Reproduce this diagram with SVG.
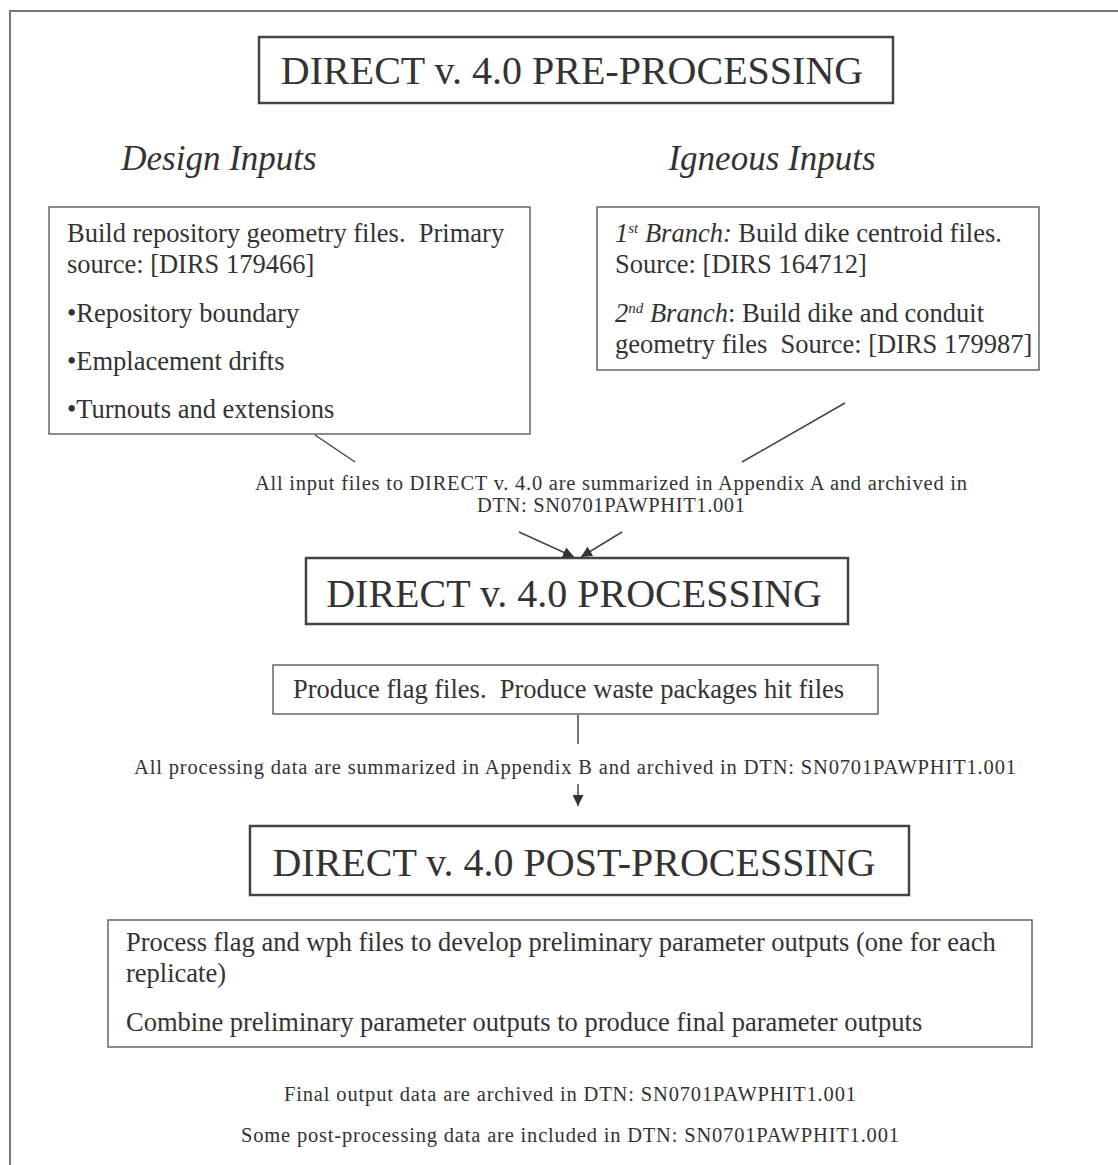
<svg xmlns="http://www.w3.org/2000/svg" width="1118" height="1165" viewBox="0 0 1118 1165">
<defs>
<marker id="ah" viewBox="0 0 10 10" refX="10" refY="5" markerWidth="11" markerHeight="11" markerUnits="userSpaceOnUse" orient="auto"><path d="M0,0 L10,5 L0,10 z" fill="#333"/></marker>
<style>
text{font-family:"Liberation Serif","Times New Roman",serif;fill:#333;white-space:pre}
.big{font-size:40px;text-anchor:middle}
.hd{font-size:35px;font-style:italic;text-anchor:middle}
.body{font-size:26.5px}
.note{font-size:20.5px;text-anchor:middle}
.box{fill:none;stroke:#666;stroke-width:1.5}
.tbox{fill:none;stroke:#444;stroke-width:2.5}
.ln{stroke:#444;stroke-width:1.5;fill:none}
</style>
</defs>
<rect width="1118" height="1165" fill="#fff"/>
<g id="frame"><path d="M10,1165 V11 H1118" fill="none" stroke="#777" stroke-width="2"/></g>
<g id="pre-title"><rect class="tbox" x="259" y="37" width="634" height="66"/><text class="big" x="572" y="84">DIRECT v. 4.0 PRE-PROCESSING</text></g>
<g id="design-heading"><text class="hd" x="219" y="170">Design Inputs</text></g>
<g id="igneous-heading"><text class="hd" x="772" y="170">Igneous Inputs</text></g>
<g id="design-box"><rect class="box" x="49" y="207" width="481" height="227"/>
<text class="body" x="67" y="242" xml:space="preserve">Build repository geometry files.  Primary</text>
<text class="body" x="67" y="273">source: [DIRS 179466]</text>
<text class="body" x="67" y="322">•Repository boundary</text>
<text class="body" x="67" y="370">•Emplacement drifts</text>
<text class="body" x="67" y="418">•Turnouts and extensions</text></g>
<g id="igneous-box"><rect class="box" x="597" y="207" width="442" height="163"/>
<text class="body" x="615" y="242"><tspan font-style="italic">1<tspan font-size="15" dy="-9">st</tspan><tspan dy="9"> Branch:</tspan></tspan> Build dike centroid files.</text>
<text class="body" x="615" y="273">Source: [DIRS 164712]</text>
<text class="body" x="615" y="322"><tspan font-style="italic">2<tspan font-size="15" dy="-9">nd</tspan><tspan dy="9"> Branch</tspan></tspan>: Build dike and conduit</text>
<text class="body" x="615" y="353" xml:space="preserve">geometry files  Source: [DIRS 179987]</text></g>
<g id="input-note"><text class="note" x="611" y="490" textLength="712" lengthAdjust="spacing">All input files to DIRECT v. 4.0 are summarized in Appendix A and archived in</text>
<text class="note" x="611" y="512" textLength="268" lengthAdjust="spacing">DTN: SN0701PAWPHIT1.001</text></g>
<g id="proc-title"><rect class="tbox" x="306" y="558" width="542" height="66"/><text class="big" x="574" y="607">DIRECT v. 4.0 PROCESSING</text></g>
<g id="produce-box"><rect class="box" x="273" y="665" width="605" height="49"/><text class="body" x="293" y="698" xml:space="preserve">Produce flag files.  Produce waste packages hit files</text></g>
<g id="proc-note"><text class="note" x="575" y="774" textLength="882" lengthAdjust="spacing">All processing data are summarized in Appendix B and archived in DTN: SN0701PAWPHIT1.001</text></g>
<g id="post-title"><rect class="tbox" x="250" y="826" width="659" height="69"/><text class="big" x="574" y="876">DIRECT v. 4.0 POST-PROCESSING</text></g>
<g id="process-box"><rect class="box" x="108" y="920" width="924" height="127"/>
<text class="body" x="126" y="951">Process flag and wph files to develop preliminary parameter outputs (one for each</text>
<text class="body" x="126" y="982">replicate)</text>
<text class="body" x="126" y="1031">Combine preliminary parameter outputs to produce final parameter outputs</text></g>
<g id="final-note"><text class="note" x="570" y="1101" textLength="572" lengthAdjust="spacing">Final output data are archived in DTN: SN0701PAWPHIT1.001</text>
<text class="note" x="570" y="1142" textLength="658" lengthAdjust="spacing">Some post-processing data are included in DTN: SN0701PAWPHIT1.001</text></g>
<g id="connectors">
<line class="ln" x1="315" y1="435" x2="355" y2="462"/>
<line class="ln" x1="845" y1="403" x2="742" y2="462"/>
<line class="ln" x1="519" y1="532" x2="574" y2="557" marker-end="url(#ah)"/>
<line class="ln" x1="622" y1="532" x2="581" y2="557" marker-end="url(#ah)"/>
<line class="ln" x1="578" y1="715" x2="578" y2="744"/>
<line class="ln" x1="578" y1="784" x2="578" y2="806" marker-end="url(#ah)"/>
</g>
</svg>
